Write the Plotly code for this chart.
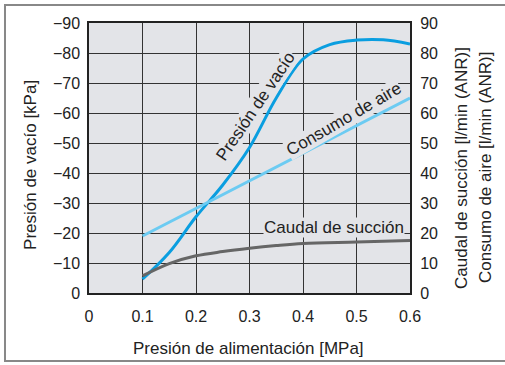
import plotly.graph_objects as go

# Data
vac_x = [0.1, 0.15, 0.2, 0.25, 0.3, 0.35, 0.4, 0.45, 0.5, 0.55, 0.6]
vac_y = [4.6, 13.5, 25.4, 36, 48.5, 65, 78, 82.8, 84.3, 84.4, 83]
aire_x = [0.1, 0.6]
aire_y = [19, 65]
caudal_x = [0.1, 0.15, 0.2, 0.25, 0.3, 0.35, 0.4, 0.5, 0.6]
caudal_y = [5.7, 9.8, 12.4, 13.8, 14.9, 15.8, 16.5, 17.0, 17.5]
left_ticks = [0, 10, 20, 30, 40, 50, 60, 70, 80, 90]
left_text = ["0", "−10", "−20", "−30", "−40", "−50", "−60", "−70", "−80", "−90"]
x_ticks = [0, 0.1, 0.2, 0.3, 0.4, 0.5, 0.6]
x_text = ["0", "0.1", "0.2", "0.3", "0.4", "0.5", "0.6"]

BG = "#e3e4e8"
GRID = "#333333"
FONT = "Liberation Sans, Arial, sans-serif"
TXT = "#222222"

fig = go.Figure()
fig.add_trace(go.Scatter(x=aire_x, y=aire_y, mode="lines", line=dict(color="#6ccbf2", width=3), yaxis="y2", showlegend=False))
fig.add_trace(go.Scatter(x=caudal_x, y=caudal_y, mode="lines", line=dict(color="#666666", width=3, shape="spline"), yaxis="y2", showlegend=False))
fig.add_trace(go.Scatter(x=vac_x, y=vac_y, mode="lines", line=dict(color="#0a9ee0", width=3, shape="spline"), showlegend=False))

axis_common = dict(showline=True, linecolor="#222", linewidth=1.5, mirror=True, zeroline=False,
                   ticks="outside", tickcolor="rgba(0,0,0,0)", automargin=False)

fig.update_layout(
    width=505, height=365,
    margin=dict(l=89, r=95, t=23, b=72),
    paper_bgcolor="white", plot_bgcolor=BG,
    font=dict(family=FONT, size=16, color=TXT),
    xaxis=dict(range=[0, 0.6], tickvals=x_ticks, ticktext=x_text, showgrid=True, gridcolor=GRID, gridwidth=1.2,
               ticklen=8, tickfont=dict(size=16), **axis_common),
    yaxis=dict(range=[0, 90], tickvals=left_ticks, ticktext=left_text, showgrid=True, gridcolor=GRID, gridwidth=1.2,
               ticklen=4, tickfont=dict(size=16), **axis_common),
    yaxis2=dict(range=[0, 90], tickvals=left_ticks, overlaying="y", side="right", showgrid=False, zeroline=False,
                ticks="outside", tickcolor="rgba(0,0,0,0)", ticklen=6, automargin=False, tickfont=dict(size=16)),
)

# Axis titles
ann = dict(showarrow=False, xanchor="center", yanchor="middle", font=dict(size=17, color=TXT))
fig.add_annotation(xref="paper", yref="paper", x=0.497, y=-0.204, text="Presión de alimentación [MPa]", **ann)
fig.add_annotation(xref="paper", yref="paper", x=-0.184, y=0.474, text="Presión de vacío [kPa]", textangle=-90, **ann)
fig.add_annotation(xref="paper", yref="paper", x=1.162, y=0.463, text="Caudal de succión [l/min (ANR)]", textangle=-90, **ann)
fig.add_annotation(xref="paper", yref="paper", x=1.237, y=0.463, text="Consumo de aire [l/min (ANR)]", textangle=-90, **ann)

# Curve labels
fig.add_annotation(x=0.311, y=62.3, text="Presión de vacío", textangle=-56, bgcolor=BG, borderpad=0, **ann)
fig.add_annotation(x=0.475, y=58, text="Consumo de aire", textangle=-30, bgcolor=BG, borderpad=0, **ann)
fig.add_annotation(x=0.458, y=21.7, text="Caudal de succión", bgcolor=BG, borderpad=0, **ann)

fig.add_shape(type="rect", xref="paper", yref="paper", x0=-0.2617, x1=1.32, y0=-0.2519, y1=1.0667,
              line=dict(color="#888888", width=2), layer="below")

fig.write_html("out.html", config={"displayModeBar": False},
               post_script="document.body.style.margin='0';document.body.style.overflow='hidden';")
